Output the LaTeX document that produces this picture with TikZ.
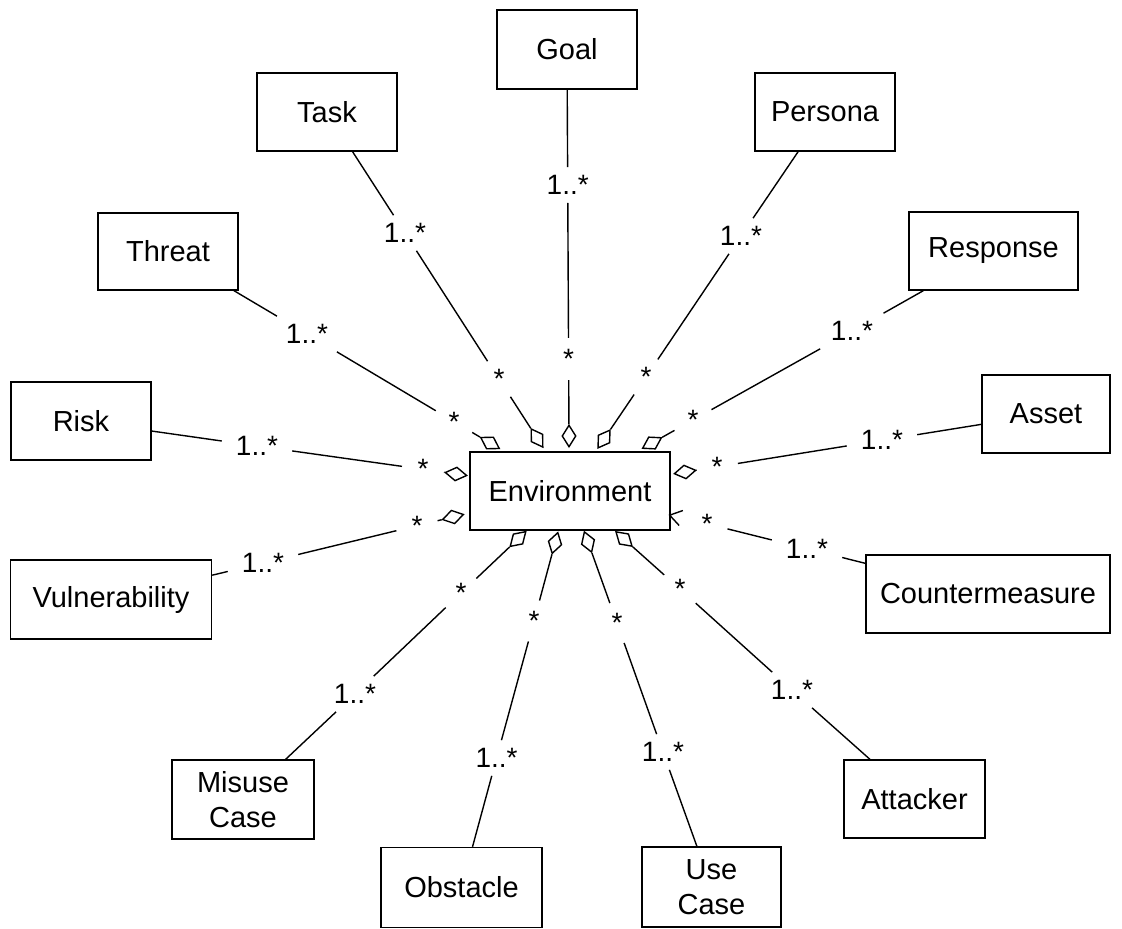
\documentclass[tikz,border=0pt]{standalone}
\usepackage{fontspec}
\setmainfont{Liberation Sans}
\usetikzlibrary{shapes.geometric}
\begin{document}
\begin{tikzpicture}[x=1pt,y=-1pt,
  box/.style={draw, line width=1.4pt, inner sep=0pt, font=\fontsize{29}{35}\selectfont, align=center},
  mult/.style={inner xsep=14pt, inner ysep=8pt, font=\fontsize{28}{32}\selectfont},
  starlab/.style={circle, inner sep=0pt, minimum size=42pt, font=\fontsize{28}{32}\selectfont},
  dia/.style={diamond, draw, line width=1.4pt, inner sep=0pt, minimum width=22pt, minimum height=14pt},
  conn/.style={line width=1.4pt}]
\useasboundingbox (0,0) rectangle (1122,929);

% central class
\node[box, minimum width=200pt, minimum height=78pt] (env) at (570,491) {Environment};

% outer classes
\node[box, minimum width=140pt, minimum height=79pt] (goal) at (567,49.5) {Goal};
\node[box, minimum width=140pt, minimum height=78pt] (task) at (327,112) {Task};
\node[box, minimum width=140pt, minimum height=78pt] (persona) at (825,112) {Persona};
\node[box, minimum width=140pt, minimum height=77pt] (threat) at (168,251.5) {Threat};
\node[box, minimum width=169pt, minimum height=78pt] (response) at (993.5,251) {Response};
\node[box, minimum width=140pt, minimum height=78pt] (risk) at (81,421) {Risk};
\node[box, minimum width=128pt, minimum height=78pt] (asset) at (1046,414) {Asset};
\node[box, minimum width=244pt, minimum height=78pt] (cm) at (988,594) {Countermeasure};
\node[box, minimum width=201pt, minimum height=79pt] (vuln) at (111,599.5) {Vulnerability};
\node[box, minimum width=142pt, minimum height=79pt] (misuse) at (243,799.5) {Misuse\\Case};
\node[box, minimum width=161pt, minimum height=80pt] (obstacle) at (461.5,887.5) {Obstacle};
\node[box, minimum width=139pt, minimum height=80pt] (usecase) at (711.5,887) {Use\\Case};
\node[box, minimum width=141pt, minimum height=78pt] (attacker) at (914.5,799) {Attacker};

% aggregation diamonds
\node[dia, rotate=90] (dgoal) at (569,436) {};
\node[dia, rotate=122.8] (dtask) at (537,438) {};
\node[dia, rotate=55.9] (dpersona) at (604,439) {};
\node[dia, rotate=149.3] (dthreat) at (490,443) {};
\node[dia, rotate=29.3] (dresponse) at (652,443) {};
\node[dia, rotate=172] (drisk) at (456,474) {};
\node[dia, rotate=9.1] (dasset) at (685,472) {};
\node[dia, rotate=13.6] (dvuln) at (453,517) {};
\node[dia, draw=none, rotate=-14] (dcm) at (681,518) {};
\draw[conn] (dcm.north) -- (dcm.west) -- (dcm.south);
\node[dia, rotate=43.5] (dmisuse) at (518,539) {};
\node[dia, rotate=74.8] (dobstacle) at (555,543) {};
\node[dia, rotate=-70.3] (dusecase) at (588,542) {};
\node[dia, rotate=-41.8] (dattacker) at (624,539) {};

% multiplicities
\node[mult] (goal1) at (567.7,185) {1..*};
\node[starlab] (goal2) at (568.6,359) {*};
\node[mult] (task1) at (405,233) {1..*};
\node[starlab] (task2) at (499,379) {*};
\node[mult] (persona1) at (741,236) {1..*};
\node[starlab] (persona2) at (646,377) {*};
\node[mult] (threat1) at (307,334) {1..*};
\node[starlab] (threat2) at (454,421.6) {*};
\node[mult] (response1) at (852,331) {1..*};
\node[starlab] (response2) at (693,420) {*};
\node[mult] (risk1) at (257,446) {1..*};
\node[starlab] (risk2) at (423,469.3) {*};
\node[mult] (asset1) at (882,440.3) {1..*};
\node[starlab] (asset2) at (717,466.8) {*};
\node[mult] (vuln1) at (263,563) {1..*};
\node[starlab] (vuln2) at (417,525.7) {*};
\node[mult] (cm1) at (807,548.7) {1..*};
\node[starlab] (cm2) at (707,523.8) {*};
\node[mult] (misuse1) at (355,694) {1..*};
\node[starlab] (misuse2) at (461,593) {*};
\node[mult] (obstacle1) at (496.6,758) {1..*};
\node[starlab] (obstacle2) at (534,621) {*};
\node[mult] (usecase1) at (663,752) {1..*};
\node[starlab] (usecase2) at (617,623) {*};
\node[mult] (attacker1) at (792,690) {1..*};
\node[starlab] (attacker2) at (680,589) {*};

% connectors
\foreach \k in {goal,task,persona,threat,response,risk,asset,vuln,misuse,obstacle,usecase,attacker}{
  \draw[conn] (\k) -- (\k1) (\k1) -- (\k2) (\k2) -- (d\k);
}
\draw[conn] (cm) -- (cm1) (cm1) -- (cm2);
\end{tikzpicture}
\end{document}
